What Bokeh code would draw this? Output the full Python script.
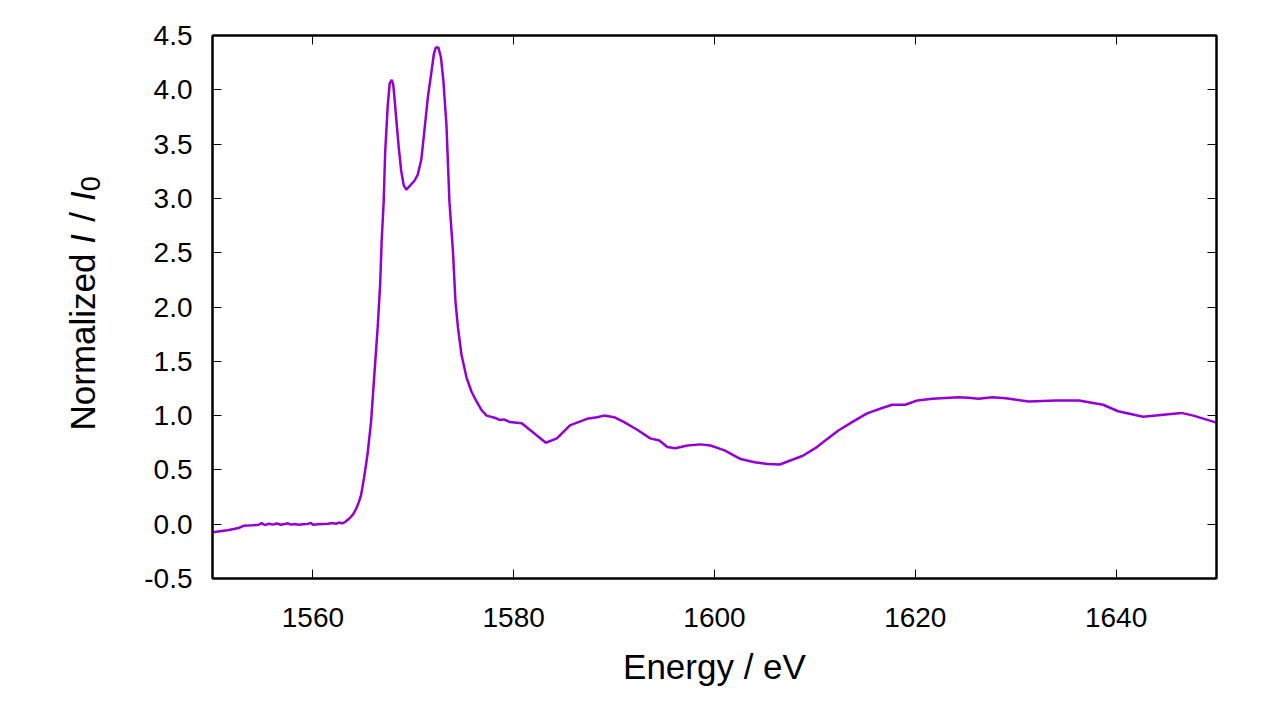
from bokeh.plotting import figure
from bokeh.layouts import row
from bokeh.models import (FixedTicker, NumeralTickFormatter, LinearAxis, Range1d,
                          Label, CustomJSTickFormatter, ColumnDataSource)
from bokeh.embed import file_html
from bokeh.resources import INLINE

# ---- data ----
energy = [1550.0, 1551.5, 1552.6, 1553.1, 1554.0, 1554.6, 1554.9, 1555.2, 1555.6, 1556.0,
          1556.4, 1556.8, 1557.2, 1557.5, 1557.8, 1558.2, 1558.6, 1559.0, 1559.5, 1559.8,
          1560.0, 1560.5, 1561.0, 1561.5, 1562.0, 1562.3, 1562.6, 1562.9, 1563.2, 1563.6,
          1564.0, 1564.3, 1564.6, 1564.8, 1565.1, 1565.45, 1565.8, 1566.1, 1566.45, 1566.7,
          1566.85, 1567.05, 1567.2, 1567.45, 1567.65, 1567.85, 1568.0, 1568.15, 1568.35, 1568.55,
          1568.8, 1569.05, 1569.3, 1569.5, 1569.7, 1570.1, 1570.45, 1570.8, 1571.1, 1571.45,
          1571.8, 1572.05, 1572.25, 1572.5, 1572.75, 1573.0, 1573.3, 1573.6, 1573.95, 1574.2,
          1574.45, 1574.8, 1575.3, 1575.8, 1576.3, 1576.8, 1577.3, 1578.1, 1578.6, 1579.0,
          1579.3, 1579.6, 1580.8, 1582.0, 1583.2, 1584.3, 1585.6, 1587.3, 1588.3, 1589.0,
          1590.0, 1591.0, 1592.3, 1593.6, 1594.5, 1595.3, 1596.1, 1597.3, 1598.6, 1599.6,
          1601.0, 1602.6, 1604.0, 1605.3, 1606.5, 1608.8, 1610.2, 1612.3, 1613.7, 1615.2,
          1616.7, 1617.7, 1619.0, 1620.2, 1621.7, 1624.3, 1625.3, 1626.3, 1627.7, 1629.0,
          1631.3, 1634.0, 1636.3, 1638.7, 1640.2, 1642.7, 1646.5, 1647.7, 1650.0]
intensity = [-0.075, -0.055, -0.035, -0.015, -0.01, -0.005, 0.01, -0.008, 0.004, -0.004,
             0.006, -0.005, 0.002, 0.008, -0.004, 0.002, -0.006, 0.0, 0.003, 0.012,
             -0.005, 0.0, 0.002, 0.004, 0.01, 0.004, 0.015, 0.008, 0.02, 0.05,
             0.09, 0.14, 0.21, 0.27, 0.43, 0.65, 0.95, 1.35, 1.81, 2.21,
             2.61, 2.97, 3.43, 3.85, 4.06, 4.09, 4.05, 3.90, 3.68, 3.47,
             3.25, 3.12, 3.08, 3.10, 3.12, 3.16, 3.22, 3.36, 3.62, 3.93,
             4.16, 4.33, 4.39, 4.39, 4.30, 4.08, 3.68, 2.97, 2.51, 2.05,
             1.81, 1.56, 1.35, 1.22, 1.13, 1.05, 1.00, 0.98, 0.96, 0.965,
             0.955, 0.94, 0.93, 0.84, 0.75, 0.79, 0.91, 0.97, 0.985, 1.00,
             0.985, 0.94, 0.87, 0.79, 0.77, 0.71, 0.70, 0.725, 0.735, 0.725,
             0.68, 0.60, 0.57, 0.555, 0.55, 0.63, 0.71, 0.86, 0.94, 1.02,
             1.07, 1.10, 1.10, 1.14, 1.155, 1.17, 1.165, 1.155, 1.17, 1.16,
             1.13, 1.14, 1.14, 1.10, 1.04, 0.99, 1.025, 1.00, 0.935]

x_ticks = [1560, 1580, 1600, 1620, 1640]
y_ticks = [-0.5, 0.0, 0.5, 1.0, 1.5, 2.0, 2.5, 3.0, 3.5, 4.0, 4.5]
x_title = "Energy / eV"
y_title_parts = ["Normalized", "I", "/", "I", "0"]

FONT = "Liberation Sans"
TICK_SIZE = "28px"
TITLE_SIZE = "35px"
SUB_SIZE = "27px"

TOP, BOTTOM, H = 35, 126, 704
LEFT_W = 120

# ---- main plot ----
p = figure(width=1264 - LEFT_W, height=H, output_backend="svg", toolbar_location=None,
           x_range=Range1d(1550, 1650), y_range=Range1d(-0.5, 4.5),
           min_border_left=212 - LEFT_W, min_border_right=48,
           min_border_top=TOP, min_border_bottom=BOTTOM)
p.background_fill_color = "white"
p.border_fill_color = "white"
p.outline_line_color = "black"
p.outline_line_width = 2
p.xgrid.visible = False
p.ygrid.visible = False

src = ColumnDataSource(data=dict(x=energy, y=intensity))
p.line("x", "y", source=src, line_color="#9400D3", line_width=2.5)

def style_axis(ax, ticks):
    ax.ticker = FixedTicker(ticks=ticks)
    ax.major_tick_in = 9
    ax.major_tick_out = 0
    ax.minor_tick_line_color = None
    ax.major_tick_line_color = "black"
    ax.major_tick_line_width = 1
    ax.axis_line_color = "black"
    ax.axis_line_width = 2
    ax.major_label_text_font = FONT
    ax.major_label_text_font_size = TICK_SIZE
    ax.major_label_text_color = "black"

xa = p.xaxis[0]
style_axis(xa, x_ticks)
xa.major_label_standoff = 29
xa.axis_label = x_title
xa.axis_label_text_font = FONT
xa.axis_label_text_font_size = TITLE_SIZE
xa.axis_label_text_font_style = "normal"
xa.axis_label_text_color = "black"
xa.axis_label_standoff = 17

ya = p.yaxis[0]
style_axis(ya, y_ticks)
ya.formatter = NumeralTickFormatter(format="0.0")
ya.major_label_standoff = 20

blank = CustomJSTickFormatter(code="return ''")
top = LinearAxis(formatter=blank)
style_axis(top, x_ticks)
top.major_label_standoff = 0
p.add_layout(top, "above")
right = LinearAxis(formatter=blank)
style_axis(right, y_ticks)
right.major_label_standoff = 0
p.add_layout(right, "right")

# ---- left strip holding the rotated y-axis title ----
q = figure(width=LEFT_W, height=H, output_backend="svg", toolbar_location=None,
           x_range=Range1d(0, LEFT_W), y_range=Range1d(-0.5, 4.5),
           x_axis_type=None, y_axis_type=None,
           min_border_left=0, min_border_right=0, min_border_top=TOP, min_border_bottom=BOTTOM)
q.outline_line_color = None
q.background_fill_color = "white"
q.border_fill_color = "white"
q.xgrid.visible = False
q.ygrid.visible = False

xb = 82
pos = [(0.863, "normal", TITLE_SIZE, xb),
       (2.582, "italic", TITLE_SIZE, xb),
       (2.785, "normal", TITLE_SIZE, xb),
       (2.975, "italic", TITLE_SIZE, xb),
       (3.066, "normal", SUB_SIZE, xb + 8)]
for txt, (yy, style, size, xx) in zip(y_title_parts, pos):
    q.add_layout(Label(x=xx, y=yy, text=txt, angle=1.5707963, angle_units="rad",
                       text_font=FONT, text_font_size=size, text_font_style=style,
                       text_align="left", text_baseline="alphabetic", text_color="black"))

layout = row(q, p)
open("out.html", "w").write(file_html(layout, INLINE))
